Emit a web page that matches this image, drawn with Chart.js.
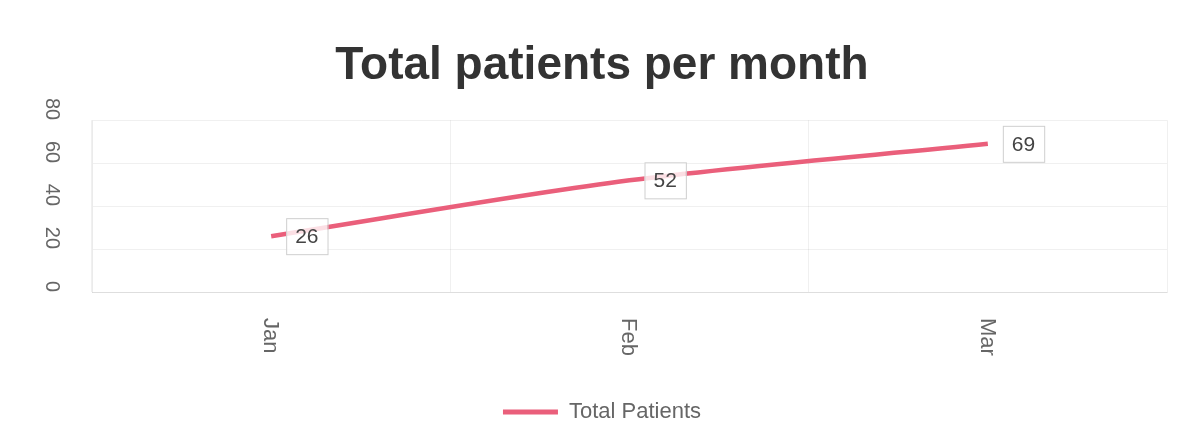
<!DOCTYPE html>
<html lang="en">
<head>
    <meta charset="UTF-8">
    <title>Total patients per month</title>
    <script src="https://cdn.jsdelivr.net/npm/chart.js"></script>
    <style>
        body {
            margin: 0;
            background-color: #ffffff;
            font-family: 'Liberation Sans', Arial, sans-serif;
        }
    </style>
</head>
<body>
    <canvas id="patientsChart" width="1185" height="441"></canvas>

    <script>
        // Datos del gráfico
        const months = ['Jan', 'Feb', 'Mar'];
        const totalPatients = [26, 52, 69];
        const yTicks = [0, 20, 40, 60, 80];

        const lineColor = '#ea5f7b';
        const fontFamily = "'Liberation Sans', Arial, sans-serif";

        // Etiquetas giradas y cajas de valores
        const customLabels = {
            id: 'customLabels',
            afterDraw(chart) {
                const ctx = chart.ctx;
                const xScale = chart.scales.x;
                const yScale = chart.scales.y;

                ctx.save();
                ctx.fillStyle = '#666';
                ctx.font = '20px ' + fontFamily;
                ctx.textBaseline = 'middle';
                ctx.textAlign = 'right';
                yTicks.forEach(v => {
                    ctx.save();
                    ctx.translate(52, yScale.getPixelForValue(v));
                    ctx.rotate(Math.PI / 2);
                    ctx.fillText(String(v), 0, 0);
                    ctx.restore();
                });

                ctx.font = '22px ' + fontFamily;
                ctx.textAlign = 'left';
                months.forEach((m, i) => {
                    ctx.save();
                    ctx.translate(xScale.getPixelForValue(i) - 1, chart.chartArea.bottom + 26);
                    ctx.rotate(Math.PI / 2);
                    ctx.fillText(m, 0, 0);
                    ctx.restore();
                });

                // Cajas con el valor
                const meta = chart.getDatasetMeta(0);
                ctx.font = '21px ' + fontFamily;
                ctx.textAlign = 'center';
                meta.data.forEach((pt, i) => {
                    const text = String(totalPatients[i]);
                    const w = ctx.measureText(text).width + 18;
                    const h = 36;
                    const left = pt.x + 15;
                    const top = pt.y - h / 2;
                    ctx.fillStyle = 'rgba(255,255,255,0.8)';
                    ctx.fillRect(left, top, w, h);
                    ctx.strokeStyle = '#cfcfcf';
                    ctx.lineWidth = 1;
                    ctx.strokeRect(left + 0.5, top + 0.5, w, h);
                    ctx.fillStyle = '#444';
                    ctx.fillText(text, left + w / 2, pt.y + 1);
                });
                ctx.restore();
            }
        };

        new Chart(document.getElementById('patientsChart'), {
            type: 'line',
            data: {
                labels: months,
                datasets: [{
                    label: 'Total Patients',
                    data: totalPatients,
                    borderColor: lineColor,
                    backgroundColor: lineColor,
                    borderWidth: 4.5,
                    tension: 0.3,
                    pointRadius: 0,
                    fill: false
                }]
            },
            options: {
                responsive: false,
                animation: false,
                layout: {
                    padding: { left: 37, right: 18, top: 0, bottom: 8 }
                },
                plugins: {
                    title: {
                        display: true,
                        text: 'Total patients per month',
                        color: '#333',
                        font: { family: fontFamily, size: 46, weight: 'bold' },
                        padding: { top: 39, bottom: 26 }
                    },
                    legend: {
                        position: 'bottom',
                        labels: {
                            color: '#666',
                            font: { family: fontFamily, size: 22 },
                            boxWidth: 55,
                            boxHeight: 5,
                            generateLabels: chart => Chart.defaults.plugins.legend.labels.generateLabels(chart)
                                .map(l => ({ ...l, fillStyle: lineColor, lineWidth: 0 }))
                        }
                    },
                    tooltip: { enabled: false }
                },
                scales: {
                    x: {
                        offset: true,
                        grid: { offset: true, color: 'rgba(0,0,0,0.06)', drawTicks: false },
                        border: { color: 'rgba(0,0,0,0.08)' },
                        ticks: { display: false },
                        afterFit: scale => { scale.height = 99; }
                    },
                    y: {
                        min: 0,
                        max: 80,
                        ticks: { display: false, stepSize: 20 },
                        grid: { color: 'rgba(0,0,0,0.06)', drawTicks: false },
                        border: { color: 'rgba(0,0,0,0.08)' },
                        afterFit: scale => { scale.width = 55; }
                    }
                }
            },
            plugins: [customLabels]
        });
    </script>
</body>
</html>
